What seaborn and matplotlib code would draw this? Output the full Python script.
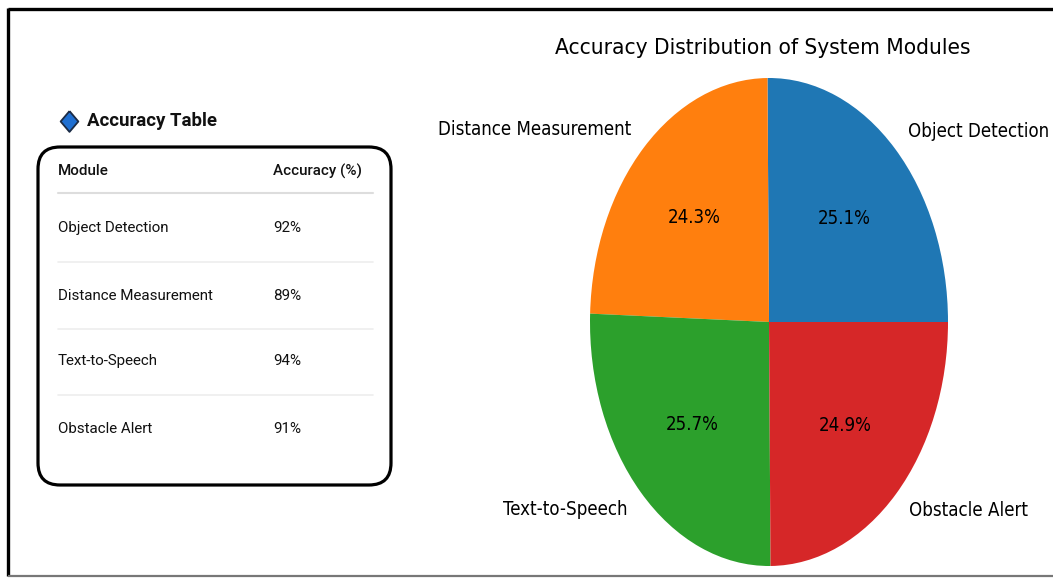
import matplotlib.pyplot as plt
import seaborn as sns
from matplotlib.patches import FancyBboxPatch

# data
modules = ['Object Detection', 'Distance Measurement', 'Text-to-Speech', 'Obstacle Alert']
accuracy = [92, 89, 94, 91]
table_header = ['Module', 'Accuracy (%)']

sns.set_theme(style='white')
plt.rcParams['font.family'] = ['DejaVu Sans']

W, H = 1053, 578
fig = plt.figure(figsize=(W / 100, H / 100), dpi=100)
fig.patch.set_facecolor('white')

# full-figure overlay in pixel coordinates for the frame and the table
bg = fig.add_axes([0, 0, 1, 1])
bg.set_xlim(0, W)
bg.set_ylim(H, 0)
bg.axis('off')

# outer frame
bg.plot([8, 8], [8, 576], color='black', lw=2.4, solid_capstyle='butt')
bg.plot([8, W], [8.5, 8.5], color='black', lw=2.4, solid_capstyle='butt')
bg.plot([8, W], [576, 576], color='#777777', lw=1.6, solid_capstyle='butt')

# table title
table_font = ['Roboto', 'DejaVu Sans']
diamond = [(0, 1), (0.85, 0), (0, -1), (-0.85, 0), (0, 1)]
bg.plot(69, 121, marker=diamond, ms=15, mfc='#1f6fd1', mec='#1b2b45', mew=1.3)
bg.text(87, 121, 'Accuracy Table', fontsize=13.4, fontweight='bold', va='center',
        family=table_font, color='#111111')

# rounded box
box = FancyBboxPatch((38, 147), 353, 338, boxstyle='round,pad=0,rounding_size=22',
                     fc='white', ec='black', lw=2.3)
bg.add_patch(box)

col_x = [58, 273]
for x, h in zip(col_x, table_header):
    bg.text(x, 171, h, fontsize=10.9, fontweight='medium', va='center',
            family=table_font, color='#111111')
bg.plot([58, 373], [193, 193], color='#dddddd', lw=1.5)

row_y = [228, 296, 361, 429]
for i, (m, a) in enumerate(zip(modules, accuracy)):
    bg.text(col_x[0], row_y[i], m, fontsize=10.9, va='center', family=table_font, color='#111111')
    bg.text(col_x[1], row_y[i], f'{a}%', fontsize=10.9, va='center', family=table_font, color='#111111')
    if i < len(modules) - 1:
        sep = (row_y[i] + row_y[i + 1]) / 2
        bg.plot([58, 373], [sep, sep], color='#eeeeee', lw=1.2)

# pie chart
ax = fig.add_axes([590 / W, (H - 566) / H, 358 / W, 488 / H])
colors = sns.color_palette('tab10', len(modules))
ax.pie(accuracy, labels=modules, colors=colors, autopct='%1.1f%%', startangle=0,
       wedgeprops=dict(linewidth=0),
       textprops=dict(fontsize=13.4, fontstretch='condensed', color='black'))
ax.set_aspect('auto')
ax.set_xlim(-1, 1)
ax.set_ylim(-1, 1)

bg.text(763, 48, 'Accuracy Distribution of System Modules', fontsize=16.2,
        fontstretch='condensed', ha='center', va='center', color='black')

fig.savefig('out.png', dpi=100)
